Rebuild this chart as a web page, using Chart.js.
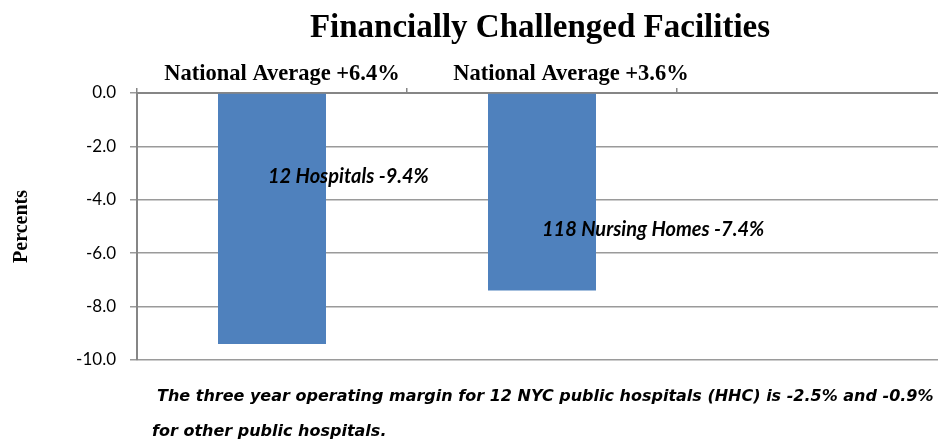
<!DOCTYPE html>
<html>
<head>
<meta charset="utf-8">
<script src="https://cdn.jsdelivr.net/npm/chart.js@4.4.1/dist/chart.umd.min.js"></script>
<style>
  html, body { margin: 0; padding: 0; background: #fff; overflow: hidden; }
  #wrap { width: 947px; height: 443px; position: relative; }
</style>
</head>
<body>
<div id="wrap"><canvas id="marginChart"></canvas></div>
<script>
// -- data --
const categories = ['Hospitals', 'Nursing Homes', ''];
const marginValues = [-9.4, -7.4, null];
const barLabels = ['12 Hospitals -9.4%', '118 Nursing Homes -7.4%'];
const nationalAverages = ['National Average +6.4%', 'National Average +3.6%'];
const yTickValues = [0, -2, -4, -6, -8, -10];
const chartTitle = 'Financially Challenged Facilities';
const yAxisTitle = 'Percents';
const footnoteLines = [
    'The three year operating margin for 12 NYC public hospitals (HHC) is -2.5% and -0.9%',
    'for other public hospitals.'
];

const SERIF = '"Liberation Serif", "DejaVu Serif", serif';
const SANS = 'Lato, "Open Sans", sans-serif';

// -- plugin that writes the title, notes and labels --
const annotationPlugin = {
    id: 'annotations',
    afterDraw(chart) {
        const { ctx, chartArea, scales } = chart;
        const x = scales.x, y = scales.y;
        ctx.save();
        ctx.fillStyle = '#000';

        // title centred over the plot
        ctx.font = 'bold 33px ' + SERIF;
        ctx.textAlign = 'center';
        ctx.textBaseline = 'alphabetic';
        ctx.fillText(chartTitle, (chartArea.left + chartArea.right) / 2 - 2, 37);

        // national averages above the bars
        ctx.font = 'bold 22.5px ' + SERIF;
        const avgShift = [10, 29];
        nationalAverages.forEach((t, i) => {
            ctx.fillText(t, x.getPixelForValue(i) + avgShift[i], 80);
        });

        // y axis title
        ctx.save();
        ctx.translate(22, (chartArea.top + chartArea.bottom) / 2);
        ctx.rotate(-Math.PI / 2);
        ctx.font = 'bold 20px ' + SERIF;
        ctx.textBaseline = 'middle';
        ctx.fillText(yAxisTitle, 0, 0);
        ctx.restore();

        // labels inside the bars, left edge near bar centre
        ctx.font = 'italic bold 20px ' + SANS;
        ctx.textAlign = 'left';
        ctx.textBaseline = 'middle';
        const labelAt = [-3.12, -5.1];
        const labelShift = [-4, 0];
        barLabels.forEach((t, i) => {
            ctx.fillText(t, x.getPixelForValue(i) + labelShift[i], y.getPixelForValue(labelAt[i]));
        });

        // footnote
        ctx.font = 'italic bold 16px "DejaVu Sans", sans-serif';
        ctx.fillText(footnoteLines[0], 157, 397);
        ctx.fillText(footnoteLines[1], 152, 432);
        ctx.restore();
    }
};

new Chart(document.getElementById('marginChart').getContext('2d'), {
    type: 'bar',
    data: {
        labels: categories,
        datasets: [{
            data: marginValues,
            backgroundColor: '#4F81BD',
            borderWidth: 0,
            categoryPercentage: 1.0,
            barPercentage: 0.4
        }]
    },
    options: {
        responsive: true,
        maintainAspectRatio: false,
        animation: false,
        devicePixelRatio: 1,
        layout: { padding: { top: 87, bottom: 83, left: 0, right: 0 } },
        plugins: {
            legend: { display: false },
            title: { display: false },
            tooltip: { enabled: false }
        },
        scales: {
            x: {
                position: 'top',
                offset: true,
                ticks: { display: false },
                border: { display: true, color: '#868686', width: 2 },
                grid: { offset: true, drawOnChartArea: false, drawTicks: true, tickLength: 5, color: '#868686', lineWidth: 1.5 },
                afterFit: s => { s.height = 6; }
            },
            y: {
                min: -10,
                max: 0,
                afterBuildTicks: s => { s.ticks = yTickValues.map(v => ({ value: v })); },
                ticks: {
                    color: '#000',
                    font: { family: SANS, size: 17 },
                    padding: 14,
                    callback: v => v.toFixed(1)
                },
                border: { display: true, color: '#868686', width: 2 },
                grid: { color: '#9a9a9a', lineWidth: 1.5, tickLength: 7 },
                afterFit: s => { s.width = 137; }
            }
        }
    },
    plugins: [annotationPlugin]
});
</script>
</body>
</html>
